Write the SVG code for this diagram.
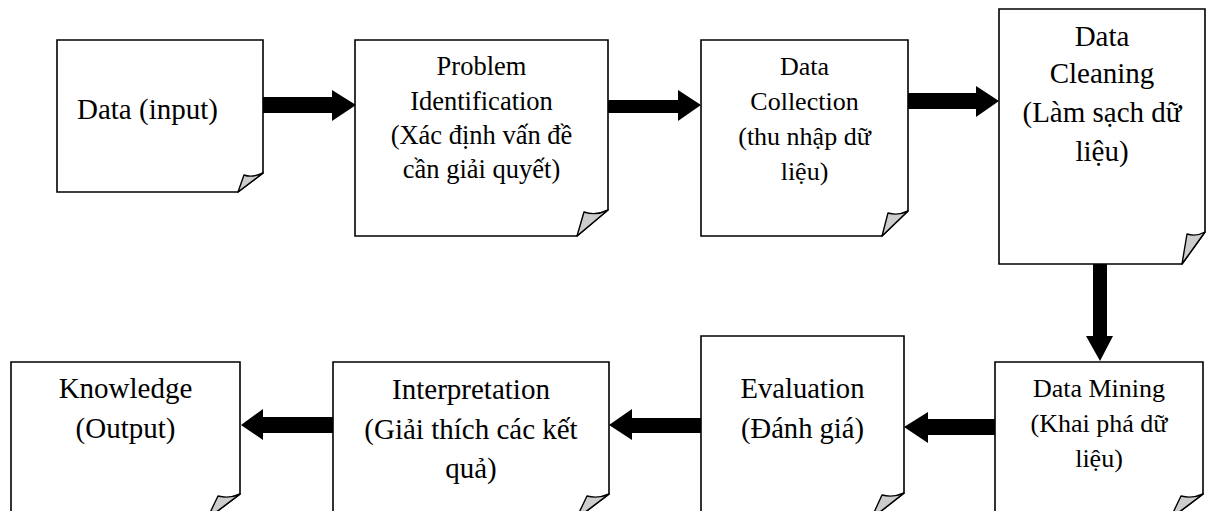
<svg xmlns="http://www.w3.org/2000/svg" width="1210" height="511" viewBox="0 0 1210 511">
  <style>
    .page { fill: #ffffff; stroke: #000000; stroke-width: 1.6; stroke-linejoin: miter; }
    .curl { fill: #cdcdcd; stroke: #000000; stroke-width: 1.4; stroke-linejoin: round; }
    .arrow { fill: #000000; stroke: none; }
    text { font-family: "Liberation Serif", "Times New Roman", serif; fill: #000000; text-anchor: middle; }
  </style>

  <rect x="0" y="0" width="1210" height="511" fill="#ffffff"/>

  <!-- Connectors: thick block arrows -->
  <g id="connectors">
    <path class="arrow" d="M263,97 H332 V90 L356,105 L332,121 V113 H263 Z"/>
    <path class="arrow" d="M608,100 H678 V90 L701,105 L678,121 V113 H608 Z"/>
    <path class="arrow" d="M908,93 H976 V86 L999,101 L976,117 V109 H908 Z"/>
    <path class="arrow" d="M1093,264 V336 H1086 L1100,361 L1113,336 H1107 V264 Z"/>
    <path class="arrow" d="M995,419 H928 V412 L904,427 L928,443 V435 H995 Z"/>
    <path class="arrow" d="M701,418 H632 V409 L609,425 L632,440 V433 H701 Z"/>
    <path class="arrow" d="M333,417 H263 V409 L241,425 L263,440 V433 H333 Z"/>
  </g>

  <!-- Data (input) -->
  <g id="node-data-input">
    <path class="page" d="M57,40 H263 V173 L238,192 H57 Z"/>
    <path class="curl" d="M238,192 L244,175 Q252,178 263,173 Z"/>
    <text x="77" y="119" font-size="29" style="text-anchor:start">Data (input)</text>
  </g>

  <!-- Problem Identification -->
  <g id="node-problem-identification">
    <path class="page" d="M355,40 H608 V210 L577,236 H355 Z"/>
    <path class="curl" d="M577,236 L584,212 Q596,216 608,210 Z"/>
    <g font-size="26.5">
      <text x="481.5" y="75">Problem</text>
      <text x="481.5" y="109.5">Identification</text>
      <text x="481.5" y="143.5">(Xác định vấn đề</text>
      <text x="481.5" y="178">cần giải quyết)</text>
    </g>
  </g>

  <!-- Data Collection -->
  <g id="node-data-collection">
    <path class="page" d="M701,40 H908 V211 L882,236 H701 Z"/>
    <path class="curl" d="M882,236 L888,213 Q898,216 908,211 Z"/>
    <g font-size="26">
      <text x="804.5" y="75">Data</text>
      <text x="804.5" y="110">Collection</text>
      <text x="804.5" y="145">(thu nhập dữ</text>
      <text x="804.5" y="180">liệu)</text>
    </g>
  </g>

  <!-- Data Cleaning -->
  <g id="node-data-cleaning">
    <path class="page" d="M999,9 H1205 V232 L1182,264 H999 Z"/>
    <path class="curl" d="M1182,264 L1187,234 Q1196,237 1205,232 Z"/>
    <g font-size="29">
      <text x="1102" y="46">Data</text>
      <text x="1102" y="83">Cleaning</text>
      <text x="1102" y="122">(Làm sạch dữ</text>
      <text x="1102" y="161">liệu)</text>
    </g>
  </g>

  <!-- Data Mining -->
  <g id="node-data-mining">
    <path class="page" d="M995,362 H1203 V494 L1170,519 H995 Z"/>
    <path class="curl" d="M1170,519 L1181,496 Q1192,499 1203,494 Z"/>
    <g font-size="26">
      <text x="1099" y="397">Data Mining</text>
      <text x="1099" y="432">(Khai phá dữ</text>
      <text x="1099" y="467">liệu)</text>
    </g>
  </g>

  <!-- Evaluation -->
  <g id="node-evaluation">
    <path class="page" d="M701,336 H904 V493 L871,519 H701 Z"/>
    <path class="curl" d="M871,519 L882,495 Q893,498 904,493 Z"/>
    <g font-size="28.6">
      <text x="802.5" y="398">Evaluation</text>
      <text x="802.5" y="438">(Đánh giá)</text>
    </g>
  </g>

  <!-- Interpretation -->
  <g id="node-interpretation">
    <path class="page" d="M333,362 H609 V494 L576,519 H333 Z"/>
    <path class="curl" d="M576,519 L587,496 Q598,499 609,494 Z"/>
    <g font-size="29">
      <text x="471" y="399">Interpretation</text>
      <text x="471" y="438.5">(Giải thích các kết</text>
      <text x="471" y="478">quả)</text>
    </g>
  </g>

  <!-- Knowledge (Output) -->
  <g id="node-knowledge">
    <path class="page" d="M11,362 H240 V494 L207,519 H11 Z"/>
    <path class="curl" d="M207,519 L218,496 Q229,499 240,494 Z"/>
    <g font-size="29">
      <text x="125.5" y="398">Knowledge</text>
      <text x="125.5" y="438">(Output)</text>
    </g>
  </g>
</svg>
